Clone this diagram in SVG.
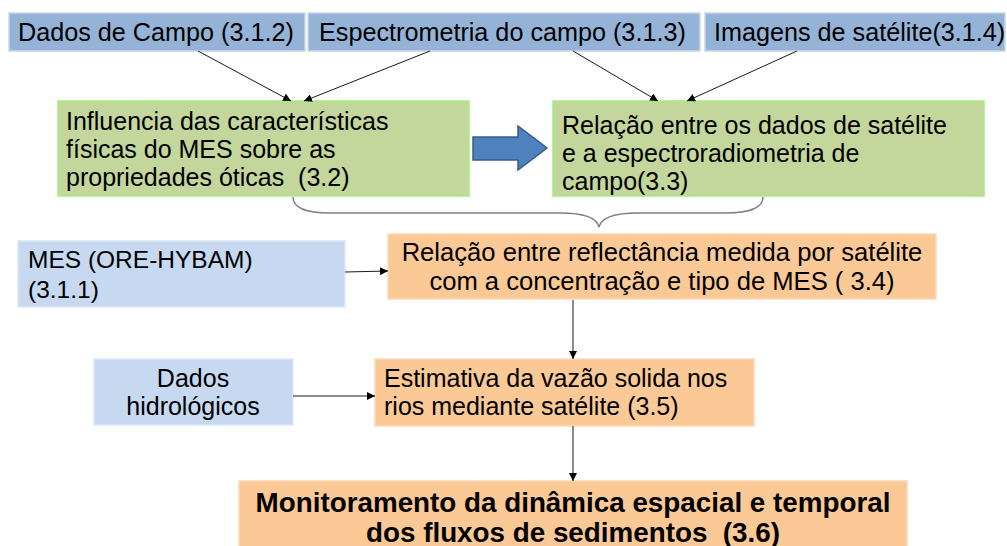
<svg xmlns="http://www.w3.org/2000/svg" width="1007" height="546" viewBox="0 0 1007 546">
<style>
  text { font-family: "Liberation Sans", Arial, sans-serif; fill: #000; }
  .top { fill: #95b3d7; stroke: #c9d8ea; stroke-width: 1.5; }
  .green { fill: #c3d69b; stroke: #a2ee7e; stroke-width: 1.5; }
  .lblue { fill: #c6d9f1; stroke: #dde8f5; stroke-width: 1.5; }
  .orange { fill: #fbc996; stroke: #fdd9b6; stroke-width: 1.5; }
  .t24 { font-size: 25.2px; }
  .t25 { font-size: 25px; }
  .t255 { font-size: 25.6px; }
  .t23 { font-size: 24.5px; }
  .bold { font-size: 27.8px; font-weight: bold; }
  .conn { stroke: #1a1a1a; stroke-width: 1; fill: none; }
</style>
<defs>
  <marker id="ah" viewBox="0 0 10 10" refX="10" refY="5" markerWidth="8" markerHeight="8" markerUnits="userSpaceOnUse" orient="auto">
    <path d="M0,0 L10,5 L0,10 z" fill="#000"/>
  </marker>
</defs>
<rect width="1007" height="546" fill="#fff"/>

<g id="n-dados-campo">
  <rect class="top" x="9" y="13" width="296" height="38"/>
  <text class="t24" x="18" y="41">Dados de Campo (3.1.2)</text>
</g>
<g id="n-espectrometria">
  <rect class="top" x="308" y="13" width="392" height="38"/>
  <text class="t24" x="319" y="41">Espectrometria do campo (3.1.3)</text>
</g>
<g id="n-imagens">
  <rect class="top" x="705" y="13" width="300" height="38"/>
  <text class="t24" x="714" y="41">Imagens de satélite(3.1.4)</text>
</g>

<g id="n-influencia">
  <rect class="green" x="58" y="101" width="411" height="95"/>
  <text class="t25" xml:space="preserve"><tspan x="66" y="130">Influencia das características</tspan><tspan x="66" y="158">físicas do MES sobre as</tspan><tspan x="66" y="186">propriedades óticas  (3.2)</tspan></text>
</g>
<g id="n-relacao-sat">
  <rect class="green" x="553" y="101" width="431" height="95"/>
  <text class="t25"><tspan x="562" y="134">Relação entre os dados de satélite</tspan><tspan x="562" y="162">e a espectroradiometria de</tspan><tspan x="562" y="190">campo(3.3)</tspan></text>
</g>

<g id="n-block-arrow">
  <path d="M473,137 L518,137 L518,126 L547,148 L518,170 L518,160 L473,160 z" fill="#4f81bd" stroke="#385d8a" stroke-width="1.5"/>
</g>

<g id="n-brace">
  <path d="M293,197 C293,208 305,213 330,213 L560,213 C585,213 597,218 599,227 C601,218 613,213 638,213 L725,213 C750,213 763,208 763,197" fill="none" stroke="#7f7f7f" stroke-width="1.5"/>
</g>

<g id="n-mes">
  <rect class="lblue" x="18" y="241" width="327" height="66"/>
  <text class="t23"><tspan x="28" y="268">MES (ORE-HYBAM)</tspan><tspan x="28" y="298">(3.1.1)</tspan></text>
</g>
<g id="n-reflectancia">
  <rect class="orange" x="388" y="234" width="548" height="65"/>
  <text class="t255" text-anchor="middle" xml:space="preserve"><tspan x="662" y="261">Relação entre reflectância medida por satélite</tspan><tspan x="662" y="290">com a concentração e tipo de MES ( 3.4)</tspan></text>
</g>

<g id="n-hidro">
  <rect class="lblue" x="94" y="359" width="199" height="66"/>
  <text class="t25" text-anchor="middle"><tspan x="193" y="387">Dados</tspan><tspan x="193" y="415">hidrológicos</tspan></text>
</g>
<g id="n-vazao">
  <rect class="orange" x="375" y="359" width="379" height="67"/>
  <text class="t25"><tspan x="384" y="387">Estimativa da vazão solida nos</tspan><tspan x="384" y="415">rios mediante satélite (3.5)</tspan></text>
</g>

<g id="n-monitoramento">
  <rect class="orange" x="239" y="481" width="668" height="70"/>
  <text class="bold" text-anchor="middle" xml:space="preserve"><tspan x="573" y="512">Monitoramento da dinâmica espacial e temporal</tspan><tspan x="573" y="542">dos fluxos de sedimentos  (3.6)</tspan></text>
</g>

<g id="connectors">
  <line class="conn" x1="198" y1="51" x2="291" y2="101" marker-end="url(#ah)"/>
  <line class="conn" x1="430" y1="51" x2="304" y2="101" marker-end="url(#ah)"/>
  <line class="conn" x1="573" y1="51" x2="658" y2="101" marker-end="url(#ah)"/>
  <line class="conn" x1="797" y1="51" x2="687" y2="101" marker-end="url(#ah)"/>
  <line class="conn" x1="345" y1="272" x2="388" y2="271" marker-end="url(#ah)"/>
  <line class="conn" x1="573" y1="300" x2="573" y2="359" marker-end="url(#ah)"/>
  <line class="conn" x1="293" y1="396" x2="375" y2="396" marker-end="url(#ah)"/>
  <line class="conn" x1="573" y1="426" x2="573" y2="481" marker-end="url(#ah)"/>
</g>
</svg>
